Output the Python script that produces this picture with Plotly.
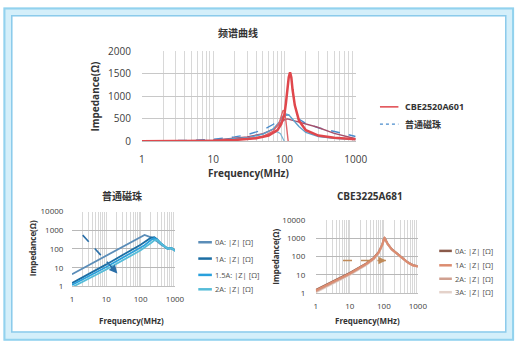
import math
import plotly.graph_objects as go

W, H = 527, 352
FONT = "Open Sans, Noto Sans CJK SC, sans-serif"

# ---------------- top chart: 频谱曲线 ----------------
cbe2520_z_freq = [1, 5, 10, 20, 40, 60, 80, 90, 100, 105, 110, 115, 120, 125, 130, 140, 160, 200, 300, 500, 1000]
cbe2520_z = [2, 8, 15, 30, 70, 130, 250, 380, 600, 850, 1150, 1420, 1530, 1420, 1150, 800, 460, 250, 130, 80, 50]
cbe2520_x_freq = [1, 10, 30, 50, 70, 85, 95, 100, 105, 110, 113]
cbe2520_x = [2, 15, 50, 110, 230, 420, 680, 690, 450, 150, 0]
cbe2520_r_freq = [1, 10, 30, 50, 70, 90, 100, 110, 130, 160, 200, 285, 500, 1000]
cbe2520_r = [1, 30, 100, 170, 270, 420, 480, 500, 470, 430, 380, 320, 180, 60]
bead_z_freq = [1, 10, 30, 50, 70, 85, 95, 105, 115, 130, 160, 200, 300, 500, 1000]
bead_z = [2, 20, 80, 160, 280, 430, 560, 610, 590, 500, 330, 200, 110, 70, 40]
bead_x_freq = [1, 10, 30, 50, 65, 79, 88, 95, 100]
bead_x = [1, 15, 50, 100, 170, 215, 170, 80, 0]
bead_dash_freq = [1, 2, 5, 10, 20, 30, 50, 70, 80, 90, 100, 110, 120, 130, 140, 160, 200, 300, 500, 700, 1000]
bead_dash = [5, 10, 25, 50, 100, 150, 255, 380, 450, 520, 570, 590, 585, 570, 550, 500, 400, 300, 230, 170, 110]

# ---------------- bottom-left: 普通磁珠 ----------------
bl_freq = [1, 10, 100, 130, 200, 250, 300, 400, 600, 800, 1000]
bl_series = {
    "0A: |Z| [Ω]": [4.5, 45, 450, 560, 420, 330, 260, 170, 105, 110, 80],
    "1A: |Z| [Ω]": [1.5, 15, 170, 230, 400, 420, 330, 190, 105, 110, 80],
    "1.5A: |Z| [Ω]": [1.2, 11, 120, 160, 300, 380, 320, 190, 105, 110, 80],
    "2A: |Z| [Ω]": [0.9, 8, 85, 115, 210, 290, 300, 185, 105, 110, 80],
}

# ---------------- bottom-right: CBE3225A681 ----------------
br_freq = [1, 10, 30, 50, 70, 90, 100, 105, 110, 130, 170, 250, 330, 500, 700, 1000]
br_series = {
    "0A: |Z| [Ω]": [1.5, 13, 42, 85, 175, 460, 920, 1080, 920, 500, 260, 140, 100, 50, 35, 30],
    "1A: |Z| [Ω]": [1.4, 12, 40, 80, 170, 450, 900, 1050, 900, 490, 255, 138, 98, 49, 34, 29],
    "2A: |Z| [Ω]": [1.25, 11, 37, 75, 160, 430, 860, 1000, 870, 480, 250, 135, 96, 48, 34, 29],
    "3A: |Z| [Ω]": [1.1, 10, 34, 70, 150, 400, 800, 930, 820, 460, 240, 130, 94, 47, 33, 28],
}

bl_arrow = [(2.05, 550), (21, 4.9)]
br_arrow = [(6.3, 62), (115, 62)]


def px(x):
    return x / W


def py(y):
    return 1 - y / H


fig = go.Figure()

# top chart traces
fig.add_trace(go.Scatter(x=bead_dash_freq, y=bead_dash, mode="lines", showlegend=False,
                         line=dict(color="#4a8ccc", width=1.4, dash="dash"), xaxis="x", yaxis="y"))
fig.add_trace(go.Scatter(x=cbe2520_r_freq, y=cbe2520_r, mode="lines", showlegend=False,
                         line=dict(color="#a4506c", width=1.4), xaxis="x", yaxis="y"))
fig.add_trace(go.Scatter(x=bead_z_freq, y=bead_z, mode="lines", showlegend=False,
                         line=dict(color="#5aa0cc", width=1.4), xaxis="x", yaxis="y"))
fig.add_trace(go.Scatter(x=bead_x_freq, y=bead_x, mode="lines", showlegend=False,
                         line=dict(color="#7ab4d4", width=1.2), xaxis="x", yaxis="y"))
fig.add_trace(go.Scatter(x=cbe2520_x_freq, y=cbe2520_x, mode="lines", showlegend=False,
                         line=dict(color="#e06468", width=1.4), xaxis="x", yaxis="y"))
fig.add_trace(go.Scatter(x=cbe2520_z_freq, y=cbe2520_z, mode="lines", showlegend=False,
                         line=dict(color="#e0474c", width=2.5), xaxis="x", yaxis="y"))

bl_colors = ["#5b8db8", "#1c6ea4", "#29a0dc", "#55bcd8"]
for (name, vals), c in zip(bl_series.items(), bl_colors):
    fig.add_trace(go.Scatter(x=bl_freq, y=vals, mode="lines", name=name, showlegend=False,
                             line=dict(color=c, width=1.8), xaxis="x2", yaxis="y2"))

br_colors = ["#8a5a4a", "#dc8c70", "#d0a090", "#e4d2ca"]
br_names = list(br_series.keys())
for idx in [0, 3, 2, 1]:
    name = br_names[idx]
    fig.add_trace(go.Scatter(x=br_freq, y=br_series[name], mode="lines", name=name, showlegend=False,
                             line=dict(color=br_colors[idx], width=2), xaxis="x3", yaxis="y3"))

# arrows (dashed shaft as line, head as annotation)
fig.add_trace(go.Scatter(x=[bl_arrow[0][0], bl_arrow[1][0]], y=[bl_arrow[0][1], bl_arrow[1][1]],
                         mode="lines", showlegend=False, line=dict(color="#2a6fa8", width=1.6, dash="dash"),
                         xaxis="x2", yaxis="y2"))
fig.add_trace(go.Scatter(x=[br_arrow[0][0], br_arrow[1][0]], y=[br_arrow[0][1], br_arrow[1][1]],
                         mode="lines", showlegend=False, line=dict(color="#c08a58", width=1.6, dash="dash"),
                         xaxis="x3", yaxis="y3"))

annotations = []
annotations.append(dict(x=math.log10(bl_arrow[1][0]), y=math.log10(bl_arrow[1][1]), xref="x2", yref="y2",
                        ax=-8, ay=-9, showarrow=True, arrowhead=2, arrowsize=1.1, arrowwidth=1.5,
                        arrowcolor="#2a6fa8", text=""))
annotations.append(dict(x=math.log10(br_arrow[1][0]), y=math.log10(br_arrow[1][1]), xref="x3", yref="y3",
                        ax=-10, ay=0, showarrow=True, arrowhead=2, arrowsize=1.0, arrowwidth=1.5,
                        arrowcolor="#c08a58", text=""))


def log_ticks(decades):
    vals, texts = [], []
    for d in range(decades):
        for m in range(1, 10):
            vals.append(m * 10 ** d)
            texts.append(str(10 ** d) if m == 1 else "")
    vals.append(10 ** decades)
    texts.append(str(10 ** decades))
    return vals, texts


xv, xt = log_ticks(3)
TICKC = "#404040"
common_x = dict(type="log", range=[0, 3], tickvals=xv, ticktext=xt, showgrid=True,
                gridcolor="#d8d8d8", gridwidth=1, zeroline=False, ticks="outside",
                tickcolor="rgba(0,0,0,0)", showline=True, linecolor="#bfbfbf", linewidth=1)

fig.update_layout(
    width=W, height=H, margin=dict(l=0, r=0, t=0, b=0),
    paper_bgcolor="white", plot_bgcolor="white",
    font=dict(family=FONT, color=TICKC),
    xaxis=dict(common_x, domain=[px(143), px(363)], anchor="y", ticklen=9,
               tickfont=dict(size=10, color=TICKC)),
    yaxis=dict(domain=[py(140), py(46)], anchor="x", range=[0, 2000], tickvals=[0, 500, 1000, 1500, 2000],
               showgrid=True, gridcolor="#c8c8c8", zeroline=False, ticks="outside", ticklen=8,
               tickcolor="rgba(0,0,0,0)", tickfont=dict(size=10, color=TICKC)),
    xaxis2=dict(common_x, domain=[px(71), px(177)], anchor="y2", ticklen=5,
                tickfont=dict(size=8, color=TICKC)),
    yaxis2=dict(type="log", domain=[py(291), py(213)], anchor="x2", range=[0, 4],
                tickvals=[1, 10, 100, 1000, 10000], ticktext=["1", "10", "100", "1000", "10000"],
                showgrid=True, gridcolor="#b8b8b8", zeroline=False, ticks="outside", ticklen=6,
                tickcolor="rgba(0,0,0,0)", tickfont=dict(size=8, color=TICKC)),
    xaxis3=dict(common_x, domain=[px(322), px(427)], anchor="y3", ticklen=5,
                tickfont=dict(size=8, color=TICKC)),
    yaxis3=dict(type="log", domain=[py(298), py(222)], anchor="x3", range=[0, 4],
                tickvals=[1, 10, 100, 1000, 10000], ticktext=["1", "10", "100", "1000", "10000"],
                showgrid=True, gridcolor="#b8b8b8", zeroline=False, ticks="outside", ticklen=8,
                tickcolor="rgba(0,0,0,0)", tickfont=dict(size=8, color=TICKC)),
)

# titles and axis titles as annotations
TC = "#333333"


def txt(x, y, s, size, bold=True, angle=0, xanchor="center", color=TC):
    annotations.append(dict(x=px(x), y=py(y), xref="paper", yref="paper", text=("<b>%s</b>" % s) if bold else s,
                            showarrow=False, textangle=angle, xanchor=xanchor, yanchor="middle",
                            font=dict(size=size, color=color, family=FONT)))


txt(242, 27, "频谱曲线", 10)
txt(253, 173, "Frequency(MHz)", 10)
txt(95, 93, "Impedance(Ω)", 10, angle=-90)
txt(122, 197, "普通磁珠", 10)
txt(132, 327, "Frequency(MHz)", 8)
txt(30, 251, "Impedance(Ω)", 8, angle=-90)
txt(378, 197, "CBE3225A681", 10)
txt(375, 326, "Frequency(MHz)", 8)
txt(281, 260, "Impedance(Ω)", 8, angle=-90)

shapes = []
# manual legends
shapes.append(dict(type="line", xref="paper", yref="paper", x0=px(388), x1=px(407), y0=py(104), y1=py(104),
                   line=dict(color="#e0474c", width=1.5)))
shapes.append(dict(type="line", xref="paper", yref="paper", x0=px(388), x1=px(407), y0=py(122), y1=py(122),
                   line=dict(color="#4a8ccc", width=1.2, dash="dot")))
txt(412, 104, "CBE2520A601", 9, xanchor="left")
txt(412, 122, "普通磁珠", 9, xanchor="left")

for (name, c, yy) in zip(bl_series.keys(), bl_colors, [245, 262, 279, 294]):
    shapes.append(dict(type="line", xref="paper", yref="paper", x0=px(201), x1=px(215), y0=py(yy), y1=py(yy),
                       line=dict(color=c, width=2.5)))
    txt(216, yy, name, 7.5, bold=False, xanchor="left", color="#505050")

for (name, c, yy) in zip(br_series.keys(), br_colors, [254, 269, 283, 297]):
    shapes.append(dict(type="line", xref="paper", yref="paper", x0=px(449), x1=px(462), y0=py(yy), y1=py(yy),
                       line=dict(color=c, width=2.5)))
    txt(463, yy, name, 7.5, bold=False, xanchor="left", color="#505050")

# light blue frame
shapes.append(dict(type="rect", xref="paper", yref="paper", x0=px(5), x1=px(521.5), y0=py(5), y1=py(342.5),
                   line=dict(color="#d4effa", width=9)))
shapes.append(dict(type="rect", xref="paper", yref="paper", x0=px(1.5), x1=px(525), y0=py(1.5), y1=py(346.5),
                   line=dict(color="#92d2ee", width=2)))
shapes.append(dict(type="rect", xref="paper", yref="paper", x0=px(9), x1=px(517.5), y0=py(9), y1=py(338.5),
                   line=dict(color="#8ccbeb", width=1.5)))

fig.update_layout(annotations=annotations, shapes=shapes)
fig.write_html("out.html")
